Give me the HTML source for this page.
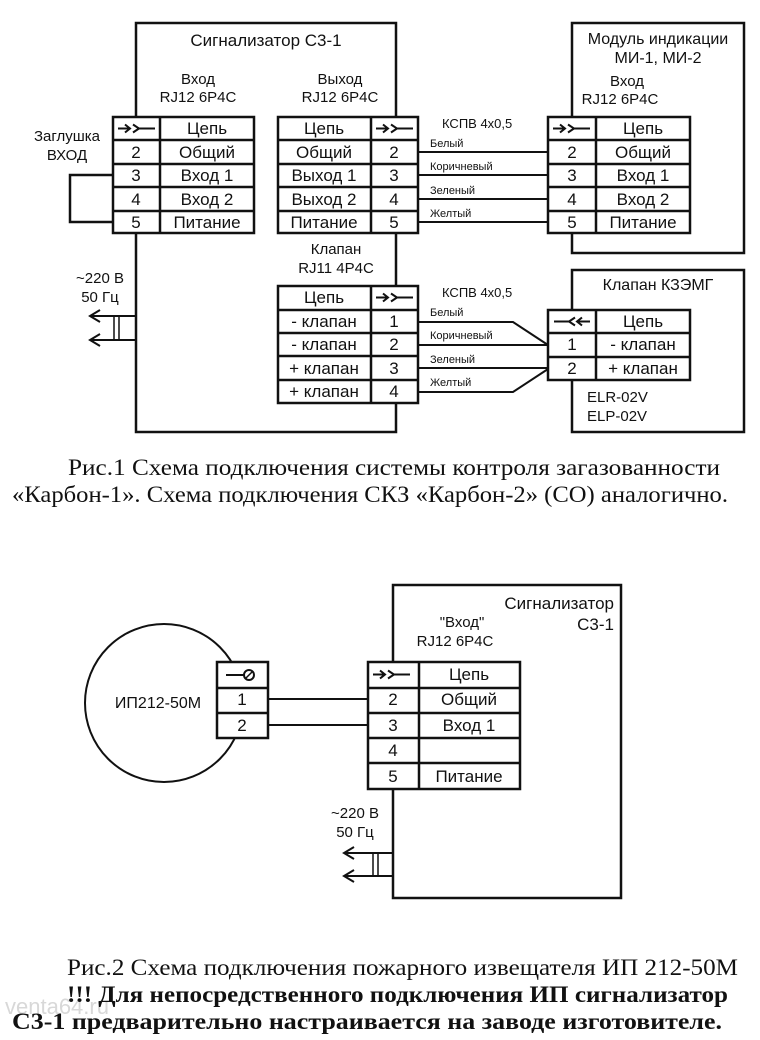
<!DOCTYPE html>
<html><head><meta charset="utf-8"><style>
html,body{margin:0;padding:0;background:#fff;}
svg{display:block;}
.s{font-family:"Liberation Sans",sans-serif;fill:#111;}
.r{font-family:"Liberation Serif",serif;fill:#111;}
</style></head><body>
<svg width="760" height="1040" viewBox="0 0 760 1040" xmlns="http://www.w3.org/2000/svg">
<defs>
<g id="sym">
<path d="M5,11.5 H17 M12,7.5 L17,11.5 L12,15.5 M20,7.5 L26,11.5 L20,15.5 M26,11.5 H42" fill="none" stroke="#111" stroke-width="2"/>
</g>
<g id="symr">
<path d="M6,11.5 H21 M27,7.5 L21,11.5 L27,15.5 M29,11.5 H42 M34,7.5 L29,11.5 L34,15.5" fill="none" stroke="#111" stroke-width="2"/>
</g>
</defs>
<g fill="none" stroke="#111" stroke-width="2.5">
<rect x="136" y="23" width="260" height="409"/>
<rect x="572" y="23" width="172" height="230"/>
<rect x="572" y="270" width="172" height="162"/>
<path d="M113,175 H70 V222 H113"/>
<path d="M90,316 H136 M90,340 H136 M100,310 L90,316 L100,322 M100,334 L90,340 L100,346" stroke-width="2"/>
<path d="M114,316 V340 M119,316 V340" stroke-width="1.5"/>
<path d="M418,152 H548 M418,175 H548 M418,199 H548 M418,222 H548" stroke-width="2"/>
<path d="M418,322 H513 L548,345 M418,345 H548 M418,368 H548 M418,392 H513 L548,369" stroke-width="2"/>
</g>
<g fill="#fff" stroke="#111" stroke-width="2.5">
<rect x="113" y="117" width="141" height="116"/>
<rect x="278" y="117" width="140" height="116"/>
<rect x="548" y="117" width="142" height="116"/>
<rect x="278" y="286" width="140" height="117"/>
<rect x="548" y="310" width="142" height="70"/>
</g>
<g stroke="#111" stroke-width="2.5">
<path d="M160,117 V233 M113,140 H254 M113,164 H254 M113,187 H254 M113,211 H254"/>
<path d="M371,117 V233 M278,140 H418 M278,164 H418 M278,187 H418 M278,211 H418"/>
<path d="M596,117 V233 M548,140 H690 M548,164 H690 M548,187 H690 M548,211 H690"/>
<path d="M371,286 V403 M278,310 H418 M278,333 H418 M278,356 H418 M278,380 H418"/>
<path d="M596,310 V380 M548,333 H690 M548,357 H690"/>
</g>
<use href="#sym" x="113" y="117"/>
<use href="#sym" x="371" y="117"/>
<use href="#sym" x="548" y="117"/>
<use href="#sym" x="371" y="286"/>
<use href="#symr" x="548" y="310"/>

<g class="s" font-size="17" text-anchor="middle">
<text x="266" y="46">Сигнализатор С3-1</text>
<text x="198" y="84" font-size="15">Вход</text>
<text x="198" y="102" font-size="15">RJ12 6P4C</text>
<text x="340" y="84" font-size="15">Выход</text>
<text x="340" y="102" font-size="15">RJ12 6P4C</text>
<text x="67" y="141" font-size="15">Заглушка</text>
<text x="67" y="160" font-size="15">ВХОД</text>
<text x="136" y="158">2</text><text x="136" y="181">3</text><text x="136" y="205">4</text><text x="136" y="228">5</text>
<text x="207" y="134">Цепь</text><text x="207" y="158">Общий</text><text x="207" y="181">Вход 1</text><text x="207" y="205">Вход 2</text><text x="207" y="228">Питание</text>
<text x="324" y="134">Цепь</text><text x="324" y="158">Общий</text><text x="324" y="181">Выход 1</text><text x="324" y="205">Выход 2</text><text x="324" y="228">Питание</text>
<text x="394" y="158">2</text><text x="394" y="181">3</text><text x="394" y="205">4</text><text x="394" y="228">5</text>
<text x="336" y="254" font-size="15">Клапан</text>
<text x="336" y="273" font-size="15">RJ11 4P4C</text>
<text x="324" y="303">Цепь</text><text x="324" y="327">- клапан</text><text x="324" y="350">- клапан</text><text x="324" y="374">+ клапан</text><text x="324" y="397">+ клапан</text>
<text x="394" y="327">1</text><text x="394" y="350">2</text><text x="394" y="374">3</text><text x="394" y="397">4</text>
<text x="100" y="283" font-size="15">~220 В</text>
<text x="100" y="302" font-size="15">50 Гц</text>
<text x="658" y="44" font-size="16">Модуль индикации</text>
<text x="658" y="63" font-size="16">МИ-1, МИ-2</text>
<text x="627" y="86" font-size="15">Вход</text>
<text x="620" y="104" font-size="15">RJ12 6P4C</text>
<text x="572" y="158">2</text><text x="572" y="181">3</text><text x="572" y="205">4</text><text x="572" y="228">5</text>
<text x="643" y="134">Цепь</text><text x="643" y="158">Общий</text><text x="643" y="181">Вход 1</text><text x="643" y="205">Вход 2</text><text x="643" y="228">Питание</text>
<text x="658" y="290" font-size="16">Клапан КЗЭМГ</text>
<text x="643" y="327">Цепь</text><text x="643" y="350">- клапан</text><text x="643" y="374">+ клапан</text>
<text x="572" y="350">1</text><text x="572" y="374">2</text>
</g>
<g class="s" font-size="15">
<text x="587" y="402">ELR-02V</text>
<text x="587" y="421">ELP-02V</text>
<text x="442" y="128" font-size="13">КСПВ 4x0,5</text>
<text x="430" y="147" font-size="11">Белый</text>
<text x="430" y="170" font-size="11">Коричневый</text>
<text x="430" y="194" font-size="11">Зеленый</text>
<text x="430" y="217" font-size="11">Желтый</text>
<text x="442" y="297" font-size="13">КСПВ 4x0,5</text>
<text x="430" y="316" font-size="11">Белый</text>
<text x="430" y="339" font-size="11">Коричневый</text>
<text x="430" y="363" font-size="11">Зеленый</text>
<text x="430" y="386" font-size="11">Желтый</text>
</g>
<g class="r" font-size="23">
<text x="68" y="475" textLength="652" lengthAdjust="spacingAndGlyphs">Рис.1 Схема подключения системы контроля загазованности</text>
<text x="12" y="502" textLength="716" lengthAdjust="spacingAndGlyphs">«Карбон-1». Схема подключения СКЗ «Карбон-2» (СО) аналогично.</text>
</g>

<g fill="none" stroke="#111" stroke-width="2.5">
<rect x="393" y="585" width="228" height="313"/>
<circle cx="164" cy="703" r="79" stroke-width="2"/>
<path d="M268,699 H368 M268,725 H368" stroke-width="2"/>
<path d="M344,853 H393 M344,876 H393 M354,847 L344,853 L354,859 M354,870 L344,876 L354,882" stroke-width="2"/>
<path d="M373,853 V876 M378,853 V876" stroke-width="1.5"/>
</g>
<g fill="#fff" stroke="#111" stroke-width="2.5">
<rect x="217" y="662" width="51" height="76"/>
<rect x="368" y="662" width="152" height="127"/>
</g>
<g stroke="#111" stroke-width="2.5">
<path d="M217,688 H268 M217,713 H268"/>
<path d="M419,662 V789 M368,688 H520 M368,713 H520 M368,738 H520 M368,763 H520"/>
</g>
<path d="M226,675 H244" stroke="#111" stroke-width="2"/>
<circle cx="249" cy="675" r="5" fill="none" stroke="#111" stroke-width="2"/>
<path d="M246,678 L252,672" stroke="#111" stroke-width="1.5"/>
<g transform="translate(368,663)"><use href="#sym"/></g>
<g class="s" font-size="17" text-anchor="middle">
<text x="242" y="705">1</text><text x="242" y="731">2</text>
<text x="393" y="705">2</text><text x="393" y="731">3</text><text x="393" y="756">4</text><text x="393" y="782">5</text>
<text x="469" y="680">Цепь</text><text x="469" y="705">Общий</text><text x="469" y="731">Вход 1</text><text x="469" y="782">Питание</text>
<text x="158" y="708" font-size="16">ИП212-50М</text>
<text x="462" y="627" font-size="15">"Вход"</text>
<text x="455" y="646" font-size="15">RJ12 6P4C</text>
<text x="355" y="818" font-size="15">~220 В</text>
<text x="355" y="837" font-size="15">50 Гц</text>
</g>
<g class="s" font-size="17" text-anchor="end">
<text x="614" y="609">Сигнализатор</text>
<text x="614" y="630">С3-1</text>
</g>
<text x="5" y="1014" font-family="Liberation Sans, sans-serif" font-size="22" fill="#d8d8d8">venta64.ru</text>
<g class="r" font-size="23">
<text x="67" y="975" textLength="671" lengthAdjust="spacingAndGlyphs">Рис.2 Схема подключения пожарного извещателя ИП 212-50М</text>
<text x="67" y="1002" font-weight="bold" textLength="661" lengthAdjust="spacingAndGlyphs">!!! Для непосредственного подключения ИП сигнализатор</text>
<text x="12" y="1029" font-weight="bold" textLength="710" lengthAdjust="spacingAndGlyphs">С3-1 предварительно настраивается на заводе изготовителе.</text>
</g>
</svg>
</body></html>
